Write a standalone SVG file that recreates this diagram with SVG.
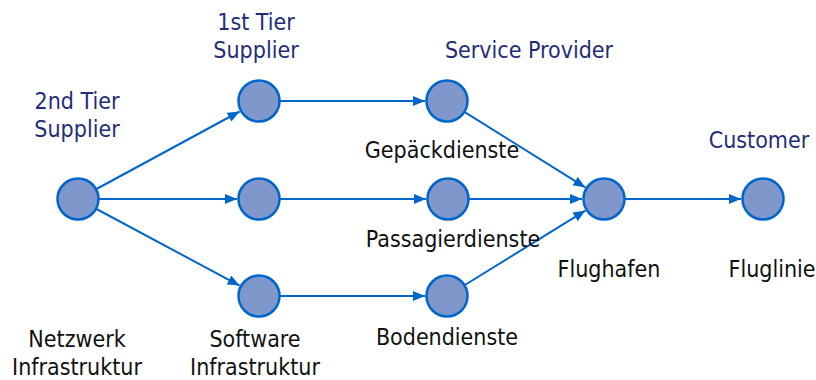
<svg xmlns="http://www.w3.org/2000/svg" width="816" height="380" viewBox="0 0 816 380">
  <style>
    .node { fill: #7F97CB; stroke: #0066CC; stroke-width: 2.5; }
    .edge { stroke: #0066CC; stroke-width: 2; fill: none; marker-end: url(#arrow); }
    .lbl { font-family: "DejaVu Sans Condensed", "DejaVu Sans", sans-serif; font-size: 23px; text-anchor: middle; fill: #111111; }
    .head { fill: #1F2D7A; }
  </style>
  <defs>
    <marker id="arrow" markerUnits="userSpaceOnUse" markerWidth="13" markerHeight="11" refX="12" refY="5" orient="auto">
      <path d="M0,0 L12,5 L0,10 z" fill="#0066CC"/>
    </marker>
  </defs>

  <rect width="816" height="380" fill="#FFFFFF"/>

  <!-- column headings -->
  <g id="headings">
    <text class="lbl head" x="77" y="109">2nd Tier</text>
    <text class="lbl head" x="77" y="137">Supplier</text>
    <text class="lbl head" x="256" y="30">1st Tier</text>
    <text class="lbl head" x="256" y="58">Supplier</text>
    <text class="lbl head" x="529" y="58">Service Provider</text>
    <text class="lbl head" x="759" y="148">Customer</text>
  </g>

  <!-- connectors -->
  <g id="connectors">
    <line class="edge" x1="96.5" y1="189" x2="239.6" y2="111.5"/>
    <line class="edge" x1="99" y1="199" x2="237" y2="199"/>
    <line class="edge" x1="96.5" y1="209" x2="239.6" y2="285.6"/>
    <line class="edge" x1="280" y1="101" x2="425" y2="101"/>
    <line class="edge" x1="280" y1="199" x2="426" y2="199"/>
    <line class="edge" x1="280" y1="296" x2="425" y2="296"/>
    <line class="edge" x1="464.8" y1="112.1" x2="585.3" y2="187.4"/>
    <line class="edge" x1="469" y1="199" x2="582" y2="199"/>
    <line class="edge" x1="464.9" y1="285" x2="585.3" y2="210.6"/>
    <line class="edge" x1="625" y1="199" x2="741" y2="199"/>
  </g>

  <!-- nodes -->
  <g id="netzwerk">
    <circle class="node" cx="78" cy="199" r="20.5"/>
    <text class="lbl" x="77" y="347">Netzwerk</text>
    <text class="lbl" x="77" y="375">Infrastruktur</text>
  </g>
  <g id="tier1-top">
    <circle class="node" cx="259" cy="101" r="20.5"/>
  </g>
  <g id="tier1-mid">
    <circle class="node" cx="259" cy="199" r="20.5"/>
  </g>
  <g id="software">
    <circle class="node" cx="259" cy="296" r="20.5"/>
    <text class="lbl" x="255" y="347">Software</text>
    <text class="lbl" x="255" y="375">Infrastruktur</text>
  </g>
  <g id="gepaeck">
    <circle class="node" cx="447" cy="101" r="20.5"/>
    <text class="lbl" x="442" y="158">Gepäckdienste</text>
  </g>
  <g id="passagier">
    <circle class="node" cx="448" cy="199" r="20.5"/>
    <text class="lbl" x="453" y="247">Passagierdienste</text>
  </g>
  <g id="boden">
    <circle class="node" cx="447" cy="296" r="20.5"/>
    <text class="lbl" x="447" y="345">Bodendienste</text>
  </g>
  <g id="flughafen">
    <circle class="node" cx="604" cy="199" r="20.5"/>
    <text class="lbl" x="609" y="277">Flughafen</text>
  </g>
  <g id="fluglinie">
    <circle class="node" cx="763" cy="199" r="20.5"/>
    <text class="lbl" x="772" y="277">Fluglinie</text>
  </g>
</svg>
